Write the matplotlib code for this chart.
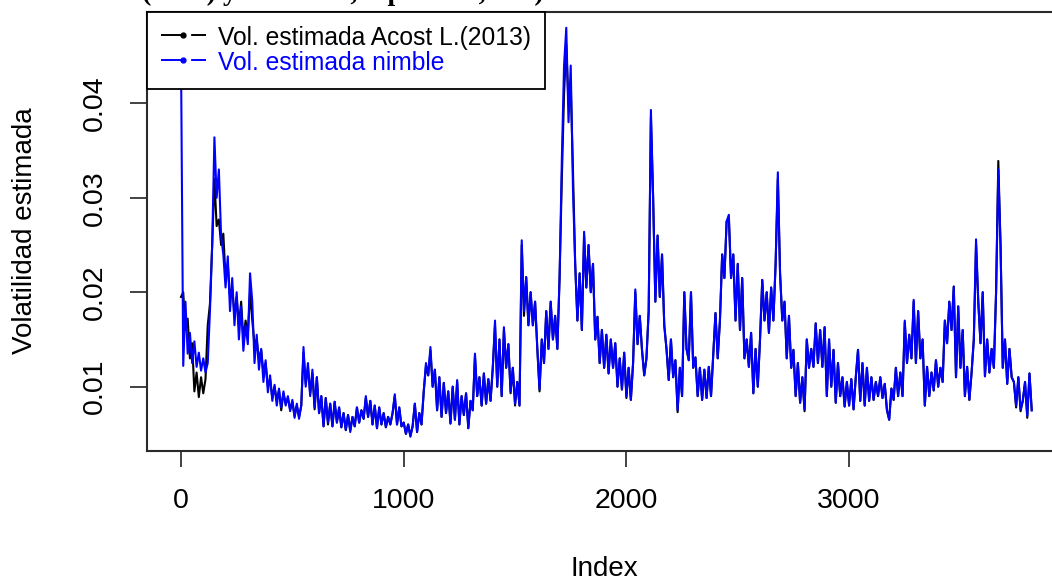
import numpy as np
import matplotlib
matplotlib.use("Agg")
import matplotlib.pyplot as plt
from matplotlib.lines import Line2D

plt.rcParams['font.family'] = ['Liberation Sans', 'DejaVu Sans']

# ---------------- data ----------------
index_step = 10  # one value every 10 observations

vol_acost = [
    0.0195, 0.0200, 0.0160, 0.0172, 0.0130, 0.0146, 0.0095, 0.0115, 0.0089, 0.0110, 0.0093, 0.0108, 0.0165, 0.0188, 0.0250,
    0.0320, 0.0270, 0.0277, 0.0250, 0.0262, 0.0215, 0.0230, 0.0195, 0.0205, 0.0175, 0.0195, 0.0165, 0.0190, 0.0150, 0.0170,
    0.0155, 0.0200, 0.0170, 0.0145, 0.0150, 0.0128, 0.0139, 0.0115, 0.0125, 0.0100, 0.0108, 0.0088, 0.0100, 0.0085, 0.0096,
    0.0075, 0.0093, 0.0082, 0.0088, 0.0076, 0.0084, 0.0069, 0.0080, 0.0068, 0.0080, 0.0136, 0.0103, 0.0120, 0.0093, 0.0114,
    0.0076, 0.0110, 0.0072, 0.0090, 0.0058, 0.0088, 0.0060, 0.0082, 0.0058, 0.0084, 0.0062, 0.0078, 0.0057, 0.0072, 0.0054,
    0.0070, 0.0054, 0.0068, 0.0058, 0.0078, 0.0062, 0.0075, 0.0066, 0.0088, 0.0068, 0.0085, 0.0060, 0.0080, 0.0056, 0.0078,
    0.0060, 0.0072, 0.0057, 0.0068, 0.0060, 0.0072, 0.0090, 0.0060, 0.0078, 0.0058, 0.0062, 0.0050, 0.0060, 0.0048, 0.0058,
    0.0082, 0.0052, 0.0072, 0.0060, 0.0095, 0.0122, 0.0112, 0.0138, 0.0100, 0.0118, 0.0075, 0.0110, 0.0068, 0.0104, 0.0072,
    0.0095, 0.0061, 0.0100, 0.0065, 0.0105, 0.0060, 0.0090, 0.0070, 0.0093, 0.0056, 0.0085, 0.0075, 0.0132, 0.0090, 0.0110,
    0.0080, 0.0114, 0.0082, 0.0108, 0.0085, 0.0120, 0.0165, 0.0100, 0.0150, 0.0090, 0.0160, 0.0120, 0.0145, 0.0093, 0.0120,
    0.0080, 0.0105, 0.0080, 0.0250, 0.0175, 0.0216, 0.0165, 0.0200, 0.0165, 0.0190, 0.0140, 0.0095, 0.0150, 0.0125, 0.0180,
    0.0140, 0.0190, 0.0150, 0.0175, 0.0140, 0.0216, 0.0320, 0.0410, 0.0462, 0.0400, 0.0420, 0.0330, 0.0230, 0.0170, 0.0220,
    0.0160, 0.0260, 0.0205, 0.0250, 0.0200, 0.0230, 0.0150, 0.0174, 0.0125, 0.0160, 0.0120, 0.0155, 0.0114, 0.0150, 0.0120,
    0.0146, 0.0100, 0.0130, 0.0097, 0.0136, 0.0088, 0.0120, 0.0086, 0.0125, 0.0200, 0.0145, 0.0175, 0.0139, 0.0112, 0.0130,
    0.0180, 0.0385, 0.0300, 0.0190, 0.0260, 0.0195, 0.0240, 0.0165, 0.0140, 0.0107, 0.0150, 0.0110, 0.0128, 0.0073, 0.0120,
    0.0090, 0.0200, 0.0140, 0.0128, 0.0200, 0.0120, 0.0131, 0.0090, 0.0120, 0.0086, 0.0118, 0.0088, 0.0121, 0.0090, 0.0135,
    0.0178, 0.0130, 0.0170, 0.0240, 0.0215, 0.0275, 0.0278, 0.0215, 0.0240, 0.0170, 0.0230, 0.0160, 0.0215, 0.0130, 0.0150,
    0.0121, 0.0157, 0.0093, 0.0140, 0.0100, 0.0150, 0.0213, 0.0170, 0.0200, 0.0157, 0.0205, 0.0170, 0.0230, 0.0320, 0.0220,
    0.0170, 0.0190, 0.0130, 0.0175, 0.0120, 0.0139, 0.0090, 0.0125, 0.0083, 0.0110, 0.0074, 0.0150, 0.0120, 0.0140, 0.0121,
    0.0167, 0.0125, 0.0160, 0.0121, 0.0163, 0.0090, 0.0150, 0.0100, 0.0139, 0.0083, 0.0125, 0.0090, 0.0110, 0.0079, 0.0105,
    0.0080, 0.0108, 0.0076, 0.0110, 0.0139, 0.0085, 0.0125, 0.0080, 0.0120, 0.0085, 0.0110, 0.0086, 0.0105, 0.0090, 0.0110,
    0.0088, 0.0103, 0.0075, 0.0065, 0.0098, 0.0086, 0.0120, 0.0090, 0.0115, 0.0090, 0.0168, 0.0125, 0.0155, 0.0130, 0.0190,
    0.0125, 0.0180, 0.0130, 0.0150, 0.0080, 0.0121, 0.0090, 0.0115, 0.0096, 0.0128, 0.0100, 0.0120, 0.0105, 0.0170, 0.0146,
    0.0190, 0.0160, 0.0206, 0.0110, 0.0185, 0.0120, 0.0160, 0.0090, 0.0121, 0.0086, 0.0115, 0.0150, 0.0250, 0.0190, 0.0146,
    0.0200, 0.0111, 0.0150, 0.0115, 0.0140, 0.0120, 0.0200, 0.0339, 0.0250, 0.0120, 0.0150, 0.0103, 0.0140, 0.0110, 0.0105,
    0.0078, 0.0110, 0.0074, 0.0085, 0.0105, 0.0067, 0.0114, 0.0075,
]

vol_nimble = [
    0.0450, 0.0122, 0.0190, 0.0135, 0.0157, 0.0125, 0.0148, 0.0121, 0.0136, 0.0117, 0.0130, 0.0115, 0.0125, 0.0180, 0.0250,
    0.0364, 0.0300, 0.0330, 0.0260, 0.0240, 0.0205, 0.0238, 0.0180, 0.0215, 0.0165, 0.0200, 0.0150, 0.0185, 0.0138, 0.0165,
    0.0145, 0.0220, 0.0190, 0.0125, 0.0155, 0.0118, 0.0140, 0.0105, 0.0128, 0.0094, 0.0112, 0.0085, 0.0102, 0.0080, 0.0098,
    0.0078, 0.0095, 0.0080, 0.0090, 0.0074, 0.0086, 0.0067, 0.0082, 0.0066, 0.0080, 0.0142, 0.0100, 0.0125, 0.0090, 0.0118,
    0.0078, 0.0110, 0.0072, 0.0090, 0.0058, 0.0088, 0.0062, 0.0082, 0.0058, 0.0084, 0.0062, 0.0078, 0.0057, 0.0072, 0.0054,
    0.0070, 0.0052, 0.0068, 0.0058, 0.0078, 0.0062, 0.0075, 0.0066, 0.0090, 0.0068, 0.0085, 0.0060, 0.0080, 0.0056, 0.0078,
    0.0060, 0.0072, 0.0057, 0.0068, 0.0060, 0.0072, 0.0092, 0.0060, 0.0078, 0.0058, 0.0062, 0.0050, 0.0060, 0.0047, 0.0058,
    0.0082, 0.0052, 0.0072, 0.0060, 0.0095, 0.0125, 0.0112, 0.0142, 0.0100, 0.0118, 0.0075, 0.0110, 0.0068, 0.0104, 0.0072,
    0.0095, 0.0061, 0.0100, 0.0065, 0.0107, 0.0060, 0.0090, 0.0070, 0.0093, 0.0056, 0.0085, 0.0075, 0.0135, 0.0090, 0.0110,
    0.0080, 0.0114, 0.0082, 0.0108, 0.0085, 0.0120, 0.0170, 0.0100, 0.0150, 0.0090, 0.0163, 0.0120, 0.0145, 0.0095, 0.0120,
    0.0082, 0.0105, 0.0080, 0.0255, 0.0180, 0.0216, 0.0165, 0.0200, 0.0165, 0.0190, 0.0140, 0.0097, 0.0150, 0.0125, 0.0180,
    0.0140, 0.0190, 0.0150, 0.0175, 0.0140, 0.0216, 0.0340, 0.0440, 0.0480, 0.0380, 0.0440, 0.0310, 0.0230, 0.0170, 0.0220,
    0.0160, 0.0264, 0.0205, 0.0250, 0.0200, 0.0230, 0.0150, 0.0174, 0.0125, 0.0160, 0.0120, 0.0155, 0.0114, 0.0150, 0.0120,
    0.0146, 0.0100, 0.0130, 0.0097, 0.0136, 0.0090, 0.0120, 0.0086, 0.0125, 0.0203, 0.0145, 0.0175, 0.0139, 0.0112, 0.0130,
    0.0180, 0.0393, 0.0300, 0.0190, 0.0260, 0.0195, 0.0240, 0.0165, 0.0140, 0.0107, 0.0150, 0.0110, 0.0128, 0.0075, 0.0120,
    0.0090, 0.0200, 0.0140, 0.0128, 0.0200, 0.0120, 0.0131, 0.0090, 0.0120, 0.0086, 0.0118, 0.0088, 0.0121, 0.0090, 0.0135,
    0.0178, 0.0130, 0.0170, 0.0240, 0.0215, 0.0275, 0.0282, 0.0215, 0.0240, 0.0170, 0.0230, 0.0160, 0.0215, 0.0130, 0.0150,
    0.0121, 0.0157, 0.0093, 0.0140, 0.0100, 0.0150, 0.0213, 0.0170, 0.0200, 0.0157, 0.0205, 0.0170, 0.0230, 0.0327, 0.0220,
    0.0170, 0.0190, 0.0130, 0.0175, 0.0120, 0.0139, 0.0090, 0.0125, 0.0083, 0.0110, 0.0076, 0.0150, 0.0120, 0.0140, 0.0121,
    0.0167, 0.0125, 0.0160, 0.0121, 0.0163, 0.0090, 0.0150, 0.0100, 0.0139, 0.0083, 0.0125, 0.0090, 0.0110, 0.0079, 0.0105,
    0.0080, 0.0108, 0.0076, 0.0110, 0.0139, 0.0085, 0.0125, 0.0080, 0.0120, 0.0085, 0.0110, 0.0086, 0.0105, 0.0090, 0.0110,
    0.0088, 0.0103, 0.0075, 0.0065, 0.0098, 0.0086, 0.0120, 0.0090, 0.0115, 0.0090, 0.0170, 0.0125, 0.0155, 0.0130, 0.0192,
    0.0125, 0.0180, 0.0130, 0.0150, 0.0080, 0.0121, 0.0090, 0.0115, 0.0096, 0.0128, 0.0100, 0.0120, 0.0105, 0.0170, 0.0146,
    0.0190, 0.0160, 0.0206, 0.0110, 0.0185, 0.0120, 0.0160, 0.0090, 0.0121, 0.0086, 0.0115, 0.0150, 0.0256, 0.0190, 0.0146,
    0.0200, 0.0111, 0.0150, 0.0115, 0.0140, 0.0120, 0.0200, 0.0330, 0.0250, 0.0120, 0.0150, 0.0103, 0.0140, 0.0110, 0.0105,
    0.0080, 0.0110, 0.0076, 0.0085, 0.0105, 0.0069, 0.0114, 0.0075,
]

series_labels = ["Vol. estimada Acost L.(2013)", "Vol. estimada nimble"]
series_colors = ["black", "blue"]
x_ticks = [0, 1000, 2000, 3000]
x_tick_labels = ["0", "1000", "2000", "3000"]
y_ticks = [0.01, 0.02, 0.03, 0.04]
y_tick_labels = ["0.01", "0.02", "0.03", "0.04"]
x_label = "Index"
y_label = "Volatilidad estimada"
title_text = "(2013) y estimada, específica, sim)"

# ---------------- figure ----------------
W, H = 1052, 581
fig = plt.figure(figsize=(W / 100, H / 100), dpi=100)
ax = fig.add_axes([147 / W, 1 - 451 / H, 924.8 / W, 439 / H])

idx_a = np.arange(len(vol_acost)) * index_step
idx_n = np.arange(len(vol_nimble)) * index_step
ax.plot(idx_a, vol_acost, color=series_colors[0], lw=1.5, zorder=2)
ax.plot(idx_n, vol_nimble, color=series_colors[1], lw=1.5, zorder=3)

ax.set_xlim(-152.7, 4000)
ax.set_ylim(0.00319, 0.04967)

ax.set_xticks(x_ticks)
ax.set_xticklabels(x_tick_labels)
ax.set_yticks(y_ticks)
ax.set_yticklabels(y_tick_labels, rotation=90, va='center')
ax.tick_params(axis='x', length=11.5, width=1.2, pad=15, labelsize=20.5, color='#222222')
ax.tick_params(axis='y', length=12.2, width=1.2, pad=16, labelsize=20.5, color='#222222')
for s in ax.spines.values():
    s.set_color('#2a2a2a')
    s.set_linewidth(1.5)

ax.set_xlabel(x_label, fontsize=20)
ax.xaxis.set_label_coords((604 - 147) / 924.8, (451 - 556) / 439)
ax.set_ylabel(y_label, fontsize=20)
ax.yaxis.set_label_coords((38.5 - 147) / 924.8, (451 - 231) / 439)

handles = [Line2D([], [], color=c, lw=1.4, linestyle=(0, (12.4, 3.1, 7.7, 20)),
                  marker='o', markersize=3.5) for c in series_colors]
leg = ax.legend(handles, series_labels, loc='upper left', bbox_to_anchor=(0, 1),
                borderaxespad=0, fontsize=17.75, handlelength=1.85, handletextpad=0.5,
                handleheight=1.03, borderpad=0.55, labelspacing=0.0, fancybox=False,
                framealpha=1, edgecolor='black', labelcolor=series_colors)
leg.get_frame().set_linewidth(1.3)
leg.set_zorder(10)

fig.text(142 / W, 1.0, title_text, family='Liberation Serif', weight='bold',
         fontsize=20, va='baseline', ha='left')

fig.savefig("out.png", dpi=100)
